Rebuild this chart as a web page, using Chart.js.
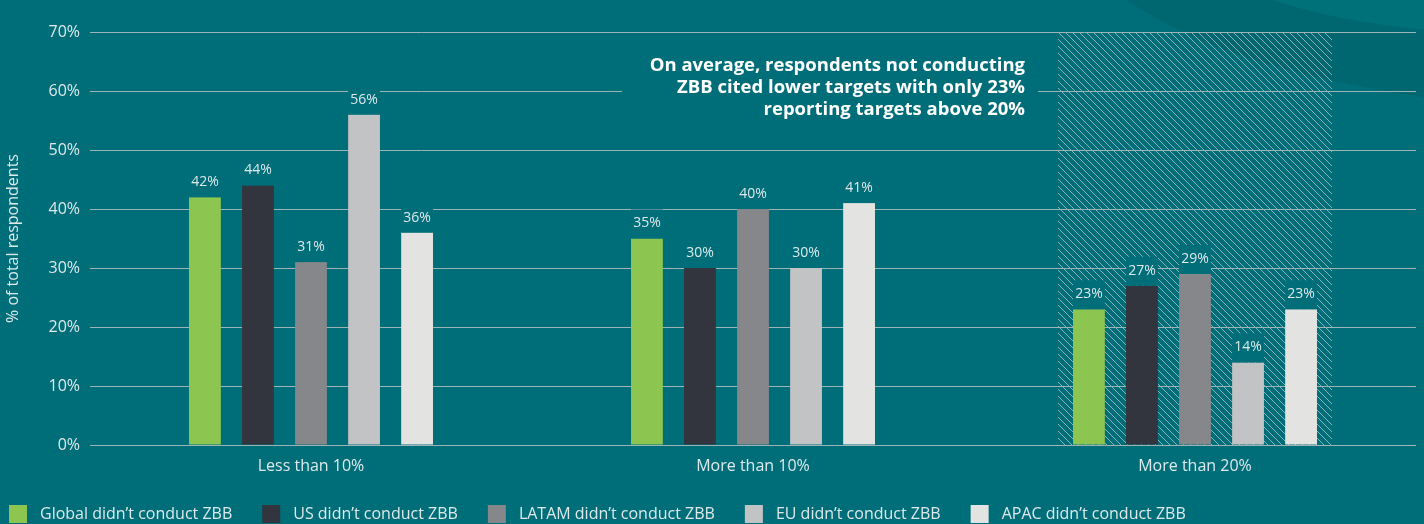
<!DOCTYPE html>
<html>
<head>
<meta charset="utf-8">
<script src="https://cdn.jsdelivr.net/npm/chart.js@4"></script>
<style>
  html, body { margin: 0; padding: 0; background: #006e79; }
  #wrap { width: 1424px; height: 524px; }
</style>
</head>
<body>
<div id="wrap"><canvas id="graph1" width="1424" height="524"></canvas></div>
<script>
const categories = ['Less than 10%', 'More than 10%', 'More than 20%'];
const seriesNames = [
  'Global didn’t conduct ZBB',
  'US didn’t conduct ZBB',
  'LATAM didn’t conduct ZBB',
  'EU didn’t conduct ZBB',
  'APAC didn’t conduct ZBB'
];
const globalValues = [42, 35, 23];
const usValues = [44, 30, 27];
const latamValues = [31, 40, 29];
const euValues = [56, 30, 14];
const apacValues = [36, 41, 23];
const yMax = 70;
const yStep = 10;
const highlightIndex = 2; // hatched category
const calloutLines = [
  'On average, respondents not conducting',
  'ZBB cited lower targets with only 23%',
  'reporting targets above 20%'
];

const BG = '#006e79';
const TEXT = '#dde9ea';
const colors = ['#8cc54f', '#32353e', '#85878a', '#c1c3c4', '#e3e4e2'];
const FONT = '"Open Sans", "Noto Sans", sans-serif';

// background, swoosh and the hatched highlight
const backdrop = {
  id: 'backdrop',
  beforeDraw(chart) {
    const {ctx, width, chartArea} = chart;
    ctx.save();
    ctx.fillStyle = BG;
    ctx.fillRect(0, 0, width, chart.height);

    ctx.fillStyle = '#00666f';
    ctx.beginPath();
    ctx.moveTo(1127, 0);
    ctx.quadraticCurveTo(1230, 70, 1424, 97);
    ctx.lineTo(1424, 0);
    ctx.closePath();
    ctx.fill();
    ctx.fillStyle = '#007079';
    ctx.beginPath();
    ctx.moveTo(1273, 0);
    ctx.quadraticCurveTo(1330, 20, 1424, 30);
    ctx.lineTo(1424, 0);
    ctx.closePath();
    ctx.fill();

    const xs = chart.scales.x;
    const cw = xs.width / categories.length;
    const cx = xs.getPixelForValue(highlightIndex);
    const x0 = Math.round(cx - cw * 0.31), x1 = Math.round(cx + cw * 0.31);
    const top = chartArea.top, bottom = chartArea.bottom, h = bottom - top;
    ctx.beginPath();
    ctx.rect(x0, top, x1 - x0, h);
    ctx.clip();
    ctx.strokeStyle = 'rgba(195,208,210,0.7)';
    ctx.lineWidth = 1;
    ctx.beginPath();
    for (let s = x0 - h; s < x1; s += 7) {
      ctx.moveTo(s, top);
      ctx.lineTo(s + h, bottom);
    }
    ctx.stroke();
    ctx.restore();
  }
};

// value labels on a masking box above each bar
const valueLabels = {
  id: 'valueLabels',
  afterDatasetsDraw(chart) {
    const ctx = chart.ctx;
    ctx.save();
    ctx.font = '14px ' + FONT;
    ctx.textAlign = 'center';
    ctx.textBaseline = 'middle';
    chart.data.datasets.forEach((ds, i) => {
      chart.getDatasetMeta(i).data.forEach((bar, j) => {
        const w = bar.width;
        ctx.fillStyle = BG;
        ctx.fillRect(bar.x - w / 2, bar.y - 29, w, 29);
        ctx.fillStyle = TEXT;
        ctx.fillText(ds.data[j] + '%', bar.x, bar.y - 15);
      });
    });
    ctx.restore();
  }
};

// callout text and legend
const extras = {
  id: 'extras',
  afterDraw(chart) {
    const ctx = chart.ctx;
    ctx.save();
    const right = 1025;
    ctx.fillStyle = BG;
    ctx.fillRect(622, 52, 416, 70);
    ctx.fillStyle = '#ffffff';
    ctx.font = 'bold 18.5px ' + FONT;
    ctx.textAlign = 'right';
    ctx.textBaseline = 'middle';
    calloutLines.forEach((t, i) => ctx.fillText(t, right, 66 + i * 22));

    ctx.font = '16px ' + FONT;
    ctx.textAlign = 'left';
    let x = 9;
    const y = 514;
    chart.data.datasets.forEach(ds => {
      ctx.fillStyle = ds.backgroundColor;
      ctx.fillRect(x, y - 9, 18, 18);
      ctx.fillStyle = TEXT;
      ctx.fillText(ds.label, x + 31, y);
      x += 31 + ctx.measureText(ds.label).width + 30;
    });
    ctx.restore();
  }
};

const seriesValues = [globalValues, usValues, latamValues, euValues, apacValues];

const config = {
  type: 'bar',
  data: {
    labels: categories,
    datasets: seriesValues.map((vals, i) => ({
      label: seriesNames[i],
      data: vals,
      backgroundColor: colors[i],
      borderWidth: 0,
      categoryPercentage: 0.6,
      barPercentage: 0.6
    }))
  },
  options: {
    responsive: false,
    animation: false,
    layout: { padding: { top: 32, right: 8, bottom: 44, left: 0 } },
    scales: {
      x: {
        grid: { display: false, drawTicks: false },
        border: { display: false },
        ticks: { color: TEXT, font: { family: FONT, size: 16 }, padding: 12 },
        afterFit(scale) { scale.height = 35; }
      },
      y: {
        min: 0,
        max: yMax,
        grid: { color: '#9db4b7', lineWidth: 1, drawTicks: false },
        border: { display: false },
        ticks: {
          stepSize: yStep,
          color: TEXT,
          padding: 10,
          font: { family: FONT, size: 16 },
          callback: v => v + '%'
        },
        title: {
          display: true,
          text: '% of total respondents',
          color: TEXT,
          font: { family: FONT, size: 16 }
        },
        afterFit(scale) { scale.width = 90; }
      }
    },
    plugins: {
      legend: { display: false },
      tooltip: { enabled: false }
    }
  },
  plugins: [backdrop, valueLabels, extras]
};

const myChart = new Chart(document.getElementById('graph1'), config);
</script>
</body>
</html>
